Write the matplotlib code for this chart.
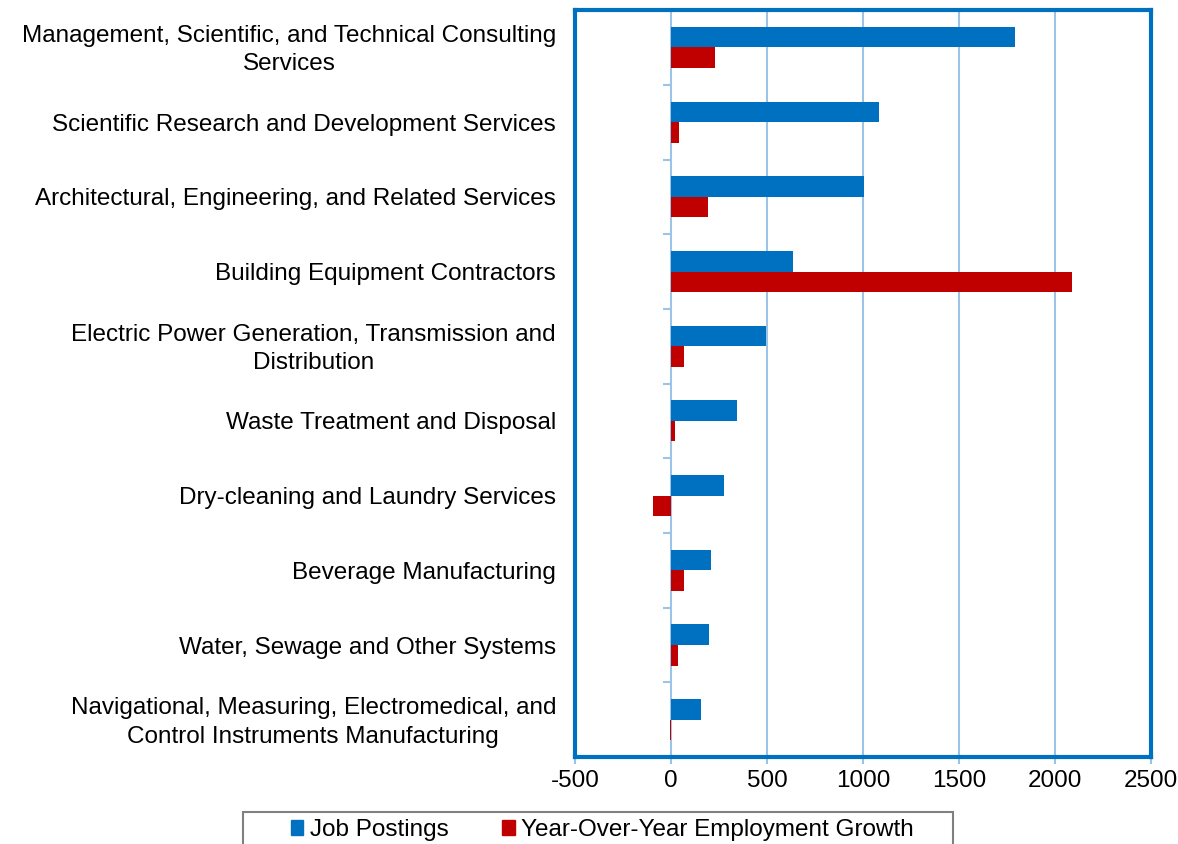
import numpy as np
import matplotlib
matplotlib.use("Agg")
import matplotlib.pyplot as plt
import matplotlib.transforms as mtransforms
from matplotlib.patches import Patch, Rectangle

plt.rcParams['font.family'] = ['Liberation Sans', 'DejaVu Sans']
plt.rcParams['axes.unicode_minus'] = False

categories = [
    "Management, Scientific, and Technical Consulting\nServices",
    "Scientific Research and Development Services",
    "Architectural, Engineering, and Related Services",
    "Building Equipment Contractors",
    "Electric Power Generation, Transmission and\nDistribution",
    "Waste Treatment and Disposal",
    "Dry-cleaning and Laundry Services",
    "Beverage Manufacturing",
    "Water, Sewage and Other Systems",
    "Navigational, Measuring, Electromedical, and\nControl Instruments Manufacturing",
]
job_postings = [1790, 1085, 1007, 637, 493, 343, 278, 209, 200, 157]
employment_growth = [228, 43, 192, 2089, 66, 20, -92, 68, 38, -3]
x_ticks = [-500, 0, 500, 1000, 1500, 2000, 2500]

blue = '#0070C0'
red = '#C00000'
grid_col = '#9DC3E6'
fs = 17.5

fig = plt.figure(figsize=(11.78, 8.44), dpi=100)
ax = fig.add_axes([0.488, 0.103, 0.489, 0.885])

y = np.arange(len(categories))
h = 0.275
ax.barh(y - h / 2, job_postings, height=h, color=blue, zorder=3)
ax.barh(y + h / 2, employment_growth, height=h, color=red, zorder=3)

ax.set_xlim(-500, 2500)
ax.set_ylim(len(categories) - 0.5, -0.5)
ax.set_xticks(x_ticks)
ax.xaxis.grid(True, color=grid_col, lw=1.5, zorder=1)
ax.tick_params(axis='x', labelsize=fs, color=grid_col, length=5, width=1.5, pad=4.5)

ax.set_yticks(y, categories)
ax.tick_params(axis='y', length=0, pad=13.5, labelsize=fs)
shift_up = mtransforms.ScaledTranslation(0, 3 / 100, fig.dpi_scale_trans)
for lab in ax.get_yticklabels():
    lab.set_multialignment('center')
    lab.set_linespacing(1.38)
    if '\n' in lab.get_text():
        lab.set_transform(lab.get_transform() + shift_up)

for s in ax.spines.values():
    s.set_color(blue)
    s.set_linewidth(3)

# small ticks between categories on the zero line
sec = ax.secondary_yaxis(500 / 3000)
sec.set_yticks(y[:-1] + 0.5, [])
sec.tick_params(length=6, width=1.5, color=grid_col)
sec.spines['left'].set_visible(False)

# legend box, cut by the bottom edge like the original
fig.patches.append(Rectangle((243 / 1178, -0.05), 710 / 1178, 0.05 + 1 - 812 / 844,
                             transform=fig.transFigure, fill=False,
                             edgecolor='#808080', lw=1.5))
handles = [Patch(color=blue, label="Job Postings"),
           Patch(color=red, label="Year-Over-Year Employment Growth")]
fig.legend(handles=handles, loc='center', ncol=2,
           bbox_to_anchor=(602 / 1178, 1 - 830 / 844),
           fontsize=fs, frameon=False, handlelength=0.53, handleheight=0.53,
           handletextpad=0.25, columnspacing=2.2, borderpad=0, borderaxespad=0)

fig.savefig("out.png", dpi=100)
